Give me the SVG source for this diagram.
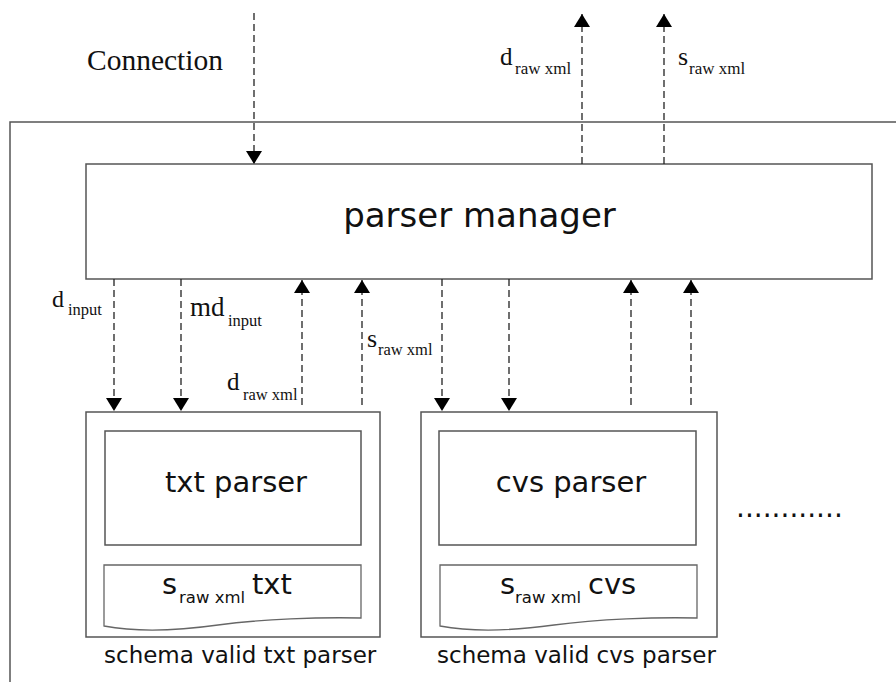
<svg xmlns="http://www.w3.org/2000/svg" width="896" height="682" viewBox="0 0 896 682">
  <style>
    .frame { fill: none; stroke: #555; stroke-width: 1.5; }
    .box { fill: #fff; stroke: #555; stroke-width: 1.5; }
    .doc { fill: #fff; stroke: #666; stroke-width: 1.3; }
    .flow { fill: none; stroke: #222; stroke-width: 1.3; stroke-dasharray: 7 4; marker-end: url(#arrow); }
    .sans { font-family: "DejaVu Sans", Verdana, sans-serif; fill: #111; }
    .serif { font-family: "Liberation Serif", "Times New Roman", serif; fill: #111; }
  </style>
  <defs>
    <marker id="arrow" viewBox="0 0 13 16" refX="13" refY="8" markerWidth="13" markerHeight="16" markerUnits="userSpaceOnUse" orient="auto">
      <path d="M0,0 L13,8 L0,16 Z" fill="#000"/>
    </marker>
  </defs>

  <rect width="896" height="682" fill="#fff"/>

  <!-- enclosing system frame (runs off the right and bottom edges) -->
  <rect class="frame" x="10" y="122" width="900" height="600"/>

  <text class="serif" x="87" y="70" font-size="29.5">Connection</text>

  <g id="parser-manager">
    <rect class="box" x="86" y="164" width="786" height="115"/>
    <text class="sans" x="479.5" y="227" font-size="34" text-anchor="middle">parser manager</text>
  </g>

  <g id="txt-parser">
    <rect class="box" x="86" y="412" width="294" height="225"/>
    <rect class="box" x="105" y="431" width="256" height="114"/>
    <text class="sans" x="236" y="492" font-size="29" text-anchor="middle">txt parser</text>
    <path class="doc" d="M104,565 H361 V618 C320,617 262,619 218,625 C175,631 136,632 104,626 Z"/>
    <text class="sans" font-size="29"><tspan x="162" y="594">s</tspan><tspan x="179" y="603" font-size="16.5">raw xml</tspan><tspan x="252" y="594">txt</tspan></text>
    <text class="sans" x="104" y="663" font-size="23">schema valid txt parser</text>
  </g>

  <g id="cvs-parser">
    <rect class="box" x="421" y="412" width="296" height="225"/>
    <rect class="box" x="439" y="431" width="257" height="114"/>
    <text class="sans" x="571" y="492" font-size="29" text-anchor="middle">cvs parser</text>
    <path class="doc" d="M440,565 H697 V618 C656,617 598,619 554,625 C511,631 472,632 440,626 Z"/>
    <text class="sans" font-size="29"><tspan x="500" y="594">s</tspan><tspan x="515" y="603" font-size="16.5">raw xml</tspan><tspan x="588" y="594">cvs</tspan></text>
    <text class="sans" x="437" y="663" font-size="23">schema valid cvs parser</text>
  </g>

  <g id="more-parsers">
    <text class="sans" x="736" y="517" font-size="28">............</text>
  </g>

  <g id="connectors">
    <path class="flow" d="M254,13 V164"/>
    <path class="flow" d="M582,164 V14"/>
    <path class="flow" d="M664,164 V14"/>
    <path class="flow" d="M114,279 V411"/>
    <path class="flow" d="M181,279 V411"/>
    <path class="flow" d="M302,405 V280"/>
    <path class="flow" d="M362,405 V280"/>
    <path class="flow" d="M442,279 V411"/>
    <path class="flow" d="M509,279 V411"/>
    <path class="flow" d="M631,405 V280"/>
    <path class="flow" d="M691,405 V280"/>
  </g>

  <g id="labels" class="serif">
    <text><tspan x="500" y="65" font-size="25">d</tspan><tspan x="515" y="74" font-size="17">raw xml</tspan></text>
    <text><tspan x="678" y="65" font-size="26">s</tspan><tspan x="689" y="74" font-size="17">raw xml</tspan></text>
    <text><tspan x="52" y="307" font-size="24">d</tspan><tspan x="68" y="315" font-size="16.5">input</tspan></text>
    <text><tspan x="190" y="316" font-size="27">md</tspan><tspan x="228" y="326" font-size="16.5">input</tspan></text>
    <text><tspan x="227" y="390" font-size="25">d</tspan><tspan x="243" y="400" font-size="16.5">raw xml</tspan></text>
    <text><tspan x="367" y="347" font-size="26">s</tspan><tspan x="378" y="355" font-size="16.5">raw xml</tspan></text>
  </g>
</svg>
